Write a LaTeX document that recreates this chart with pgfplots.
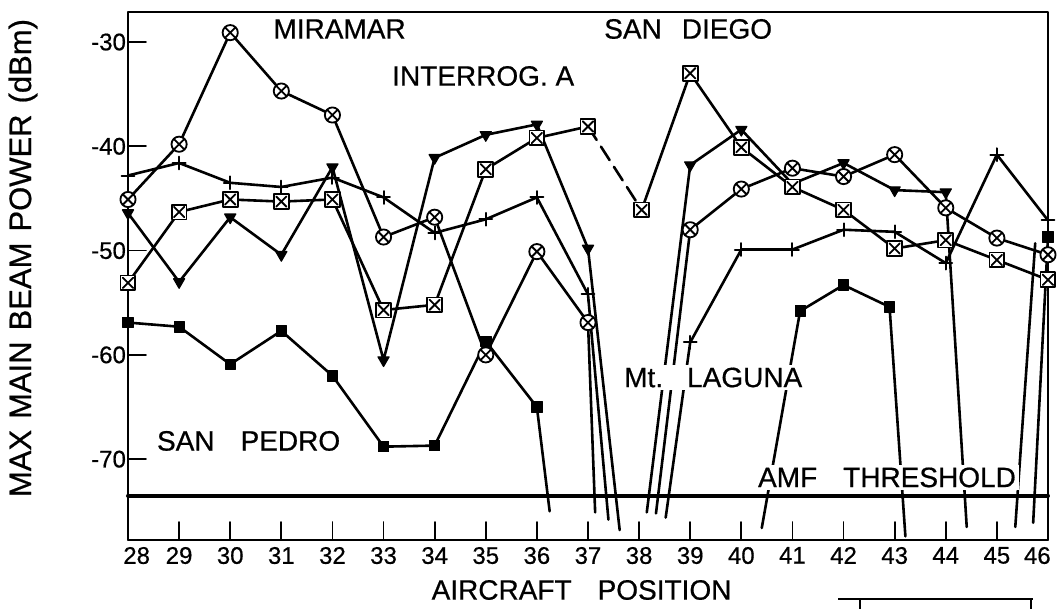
\documentclass[border=0pt]{standalone}
\usepackage{fontspec}
\setmainfont{Liberation Sans}[FakeBold=0.6]
\usepackage{pgfplots}
\pgfplotsset{compat=1.18}
\usetikzlibrary{plotmarks}

\pgfdeclareplotmark{boxx}{%
  \pgfpathrectangle{\pgfpoint{-\pgfplotmarksize}{-\pgfplotmarksize}}{\pgfpoint{2\pgfplotmarksize}{2\pgfplotmarksize}}%
  \pgfusepathqfillstroke
  \pgfpathmoveto{\pgfpoint{-0.7\pgfplotmarksize}{-0.7\pgfplotmarksize}}%
  \pgfpathlineto{\pgfpoint{0.7\pgfplotmarksize}{0.7\pgfplotmarksize}}%
  \pgfpathmoveto{\pgfpoint{-0.7\pgfplotmarksize}{0.7\pgfplotmarksize}}%
  \pgfpathlineto{\pgfpoint{0.7\pgfplotmarksize}{-0.7\pgfplotmarksize}}%
  \pgfusepathqstroke}
\tikzset{lbl/.style={font=\fontsize{14}{16}\selectfont, inner sep=1.5pt, fill=white}}
\pgfplotsset{ln/.style={line width=1.3pt, no markers, black}}

\begin{document}
\begin{tikzpicture}
\begin{axis}[
  scale only axis, width=460pt, height=264pt,
  at={(0,0)}, anchor=south west,
  xmin=28, xmax=46, ymin=-77.75, ymax=-27.12,
  clip=false,
  axis line style={line width=1.2pt},
  xtick={28,29,...,46}, ytick={-70,-60,-50,-40,-30},
  xticklabels={\makebox[22pt][r]{28},29,30,31,32,33,34,35,36,37,38,39,40,41,42,43,44,45,\makebox[24pt][l]{46}},
  yticklabels={-70,-60,-50,-40,-30},
  tick pos=left, tick align=inside, major tick length=9pt,
  every tick/.style={black, line width=0.9pt},
  ticklabel style={font=\fontsize{12}{14}\selectfont},
  /pgf/number format/assume math mode=true,
  yticklabel style={xshift=2.5pt},
  xlabel={AIRCRAFT\hspace{13pt}POSITION},
  ylabel={MAX\hspace{5.5pt}MAIN\hspace{5.5pt}BEAM\hspace{5.5pt}POWER\hspace{5.5pt}(dBm)},
  every axis x label/.style={at={(rel axis cs:0.493,-0.0947)},anchor=center,font=\fontsize{14}{16}\selectfont},
  every axis y label/.style={at={(rel axis cs:-0.1141,0.534)},anchor=center,rotate=90,font=\fontsize{15.5}{17}\selectfont},
  line join=round, line cap=round,
]
% threshold
\addplot[line width=2pt, no markers] coordinates {(28,-73.5) (46,-73.5)};

% ---------- lines ----------
% circle-cross
\addplot[ln] coordinates {(28,-45.1) (29,-39.8) (30,-29.1) (31,-34.7) (32,-37.0) (33,-48.7) (34,-46.8) (35,-60.0) (36,-50.1) (37,-56.9) (37.14,-75.1)};
\addplot[ln] coordinates {(38.33,-75.2) (39,-48.0) (40,-44.1) (41,-42.1) (42,-42.9) (43,-40.8) (44,-45.9) (45,-48.8) (46,-50.4)};
% triangle
\addplot[ln] coordinates {(28,-46.4) (29,-53.0) (30,-46.8) (31,-50.4) (32,-42.0) (33,-60.5) (34,-41.1) (35,-38.9) (36,-37.9) (37,-49.8) (37.62,-76.8)};
\addplot[ln] coordinates {(38.15,-75.1) (39,-41.8) (40,-38.4) (41,-43.6) (42,-41.6) (43,-44.2) (44,-44.4) (44.41,-76.5)};
\addplot[ln] coordinates {(45.36,-76.5) (45.75,-49.3)};
% plus
\addplot[ln] coordinates {(28,-42.8) (29,-41.6) (30,-43.5) (31,-43.9) (32,-43.0) (33,-44.9) (34,-48.3) (35,-47.0) (36,-44.9) (37,-54.2) (37.4,-75.8)};
\addplot[ln] coordinates {(38.52,-75.6) (39,-58.8) (40,-49.9) (41,-49.9) (42,-48.0) (43,-48.2) (44,-51.2) (45,-40.8) (46,-47.1)};
% box-cross
\addplot[ln] coordinates {(28,-53.1) (29,-46.3) (30,-45.1) (31,-45.3) (32,-45.1) (33,-55.7) (34,-55.2) (35,-42.2) (36,-39.2) (37,-38.1)};
\addplot[ln, dash pattern=on 8pt off 4pt] coordinates {(37,-38.1) (38.05,-46.1)};
\addplot[ln] coordinates {(38.05,-46.1) (39,-33.0) (40,-40.1) (41,-43.9) (42,-46.1) (43,-49.8) (44,-49.0) (45,-50.9) (46,-52.8)};
% filled square
\addplot[ln] coordinates {(28,-56.9) (29,-57.3) (30,-60.9) (31,-57.7) (32,-62.0) (33,-68.8) (34,-68.7) (35,-58.7) (36,-65.0) (36.25,-75.0)};
\addplot[ln] coordinates {(40.4,-76.6) (41.15,-55.8) (42,-53.3) (42.9,-55.4) (43.21,-77.4)};
\addplot[ln] coordinates {(45.71,-76.1) (46,-48.7)};

% ---------- markers ----------
\addplot[only marks, mark=triangle*, mark size=3.2pt, mark options={rotate=180, fill=black, line width=0.6pt}]
  coordinates {(28,-46.4) (29,-53.0) (30,-46.8) (31,-50.4) (32,-42.0) (33,-60.5) (34,-41.1) (35,-38.9) (36,-37.9) (37,-49.8)
               (39,-41.8) (40,-38.4) (42,-41.6) (43,-44.2) (44,-44.4)};
\addplot[only marks, mark=square*, mark size=2.6pt, mark options={fill=black}]
  coordinates {(28,-56.9) (29,-57.3) (30,-60.9) (31,-57.7) (32,-62.0) (33,-68.8) (34,-68.7) (35,-58.7) (36,-65.0)
               (41.15,-55.8) (42,-53.3) (42.9,-55.4) (46,-48.7)};
\addplot[only marks, mark=+, mark size=3.2pt, mark options={line width=1pt}]
  coordinates {(28,-42.8) (29,-41.6) (30,-43.5) (31,-43.9) (32,-43.0) (33,-44.9) (34,-48.3) (35,-47.0) (36,-44.9) (37,-54.2)
               (39,-58.8) (40,-49.9) (41,-49.9) (42,-48.0) (43,-48.2) (44,-51.2) (45,-40.8) (46,-47.1)};
\addplot[only marks, mark=otimes*, mark size=3.8pt, mark options={fill=white, line width=0.9pt}]
  coordinates {(28,-45.1) (29,-39.8) (30,-29.1) (31,-34.7) (32,-37.0) (33,-48.7) (34,-46.8) (35,-60.0) (36,-50.1) (37,-56.9)
               (39,-48.0) (40,-44.1) (41,-42.1) (42,-42.9) (43,-40.8) (44,-45.9) (45,-48.8) (46,-50.4)};
\addplot[only marks, mark=boxx, mark size=3.7pt, mark options={fill=white, line width=0.9pt}]
  coordinates {(28,-53.1) (29,-46.3) (30,-45.1) (31,-45.3) (32,-45.1) (33,-55.7) (34,-55.2) (35,-42.2) (36,-39.2) (37,-38.1)
               (38.05,-46.1) (39,-33.0) (40,-40.1) (41,-43.9) (42,-46.1) (43,-49.8) (44,-49.0) (45,-50.9) (46,-52.8)};

% ---------- labels ----------
\node[lbl] at (axis cs:32.14,-28.75) {MIRAMAR};
\node[lbl] at (axis cs:38.96,-28.75) {SAN\hspace{10pt}DIEGO};
\node[lbl] at (axis cs:34.95,-33.26) {INTERROG. A};
\node[lbl] at (axis cs:30.36,-68.25) {SAN\hspace{13pt}PEDRO};
\node[lbl] at (axis cs:39.45,-62.17) {Mt.\hspace{12pt}LAGUNA};
\node[lbl] at (axis cs:42.85,-71.75) {AMF\hspace{13pt}THRESHOLD};
\end{axis}
\draw[line width=0.8pt] (355pt,-29.5pt) -- (452.5pt,-29.5pt);
\draw[line width=0.8pt] (366pt,-29.5pt) -- (366pt,-34.5pt);
\draw[line width=0.8pt] (451.5pt,-29.5pt) -- (451.5pt,-34.5pt);
\pgfresetboundingbox
\path[use as bounding box] (-64pt,-34.5pt) rectangle (464.5pt,270pt);
\end{tikzpicture}
\end{document}
